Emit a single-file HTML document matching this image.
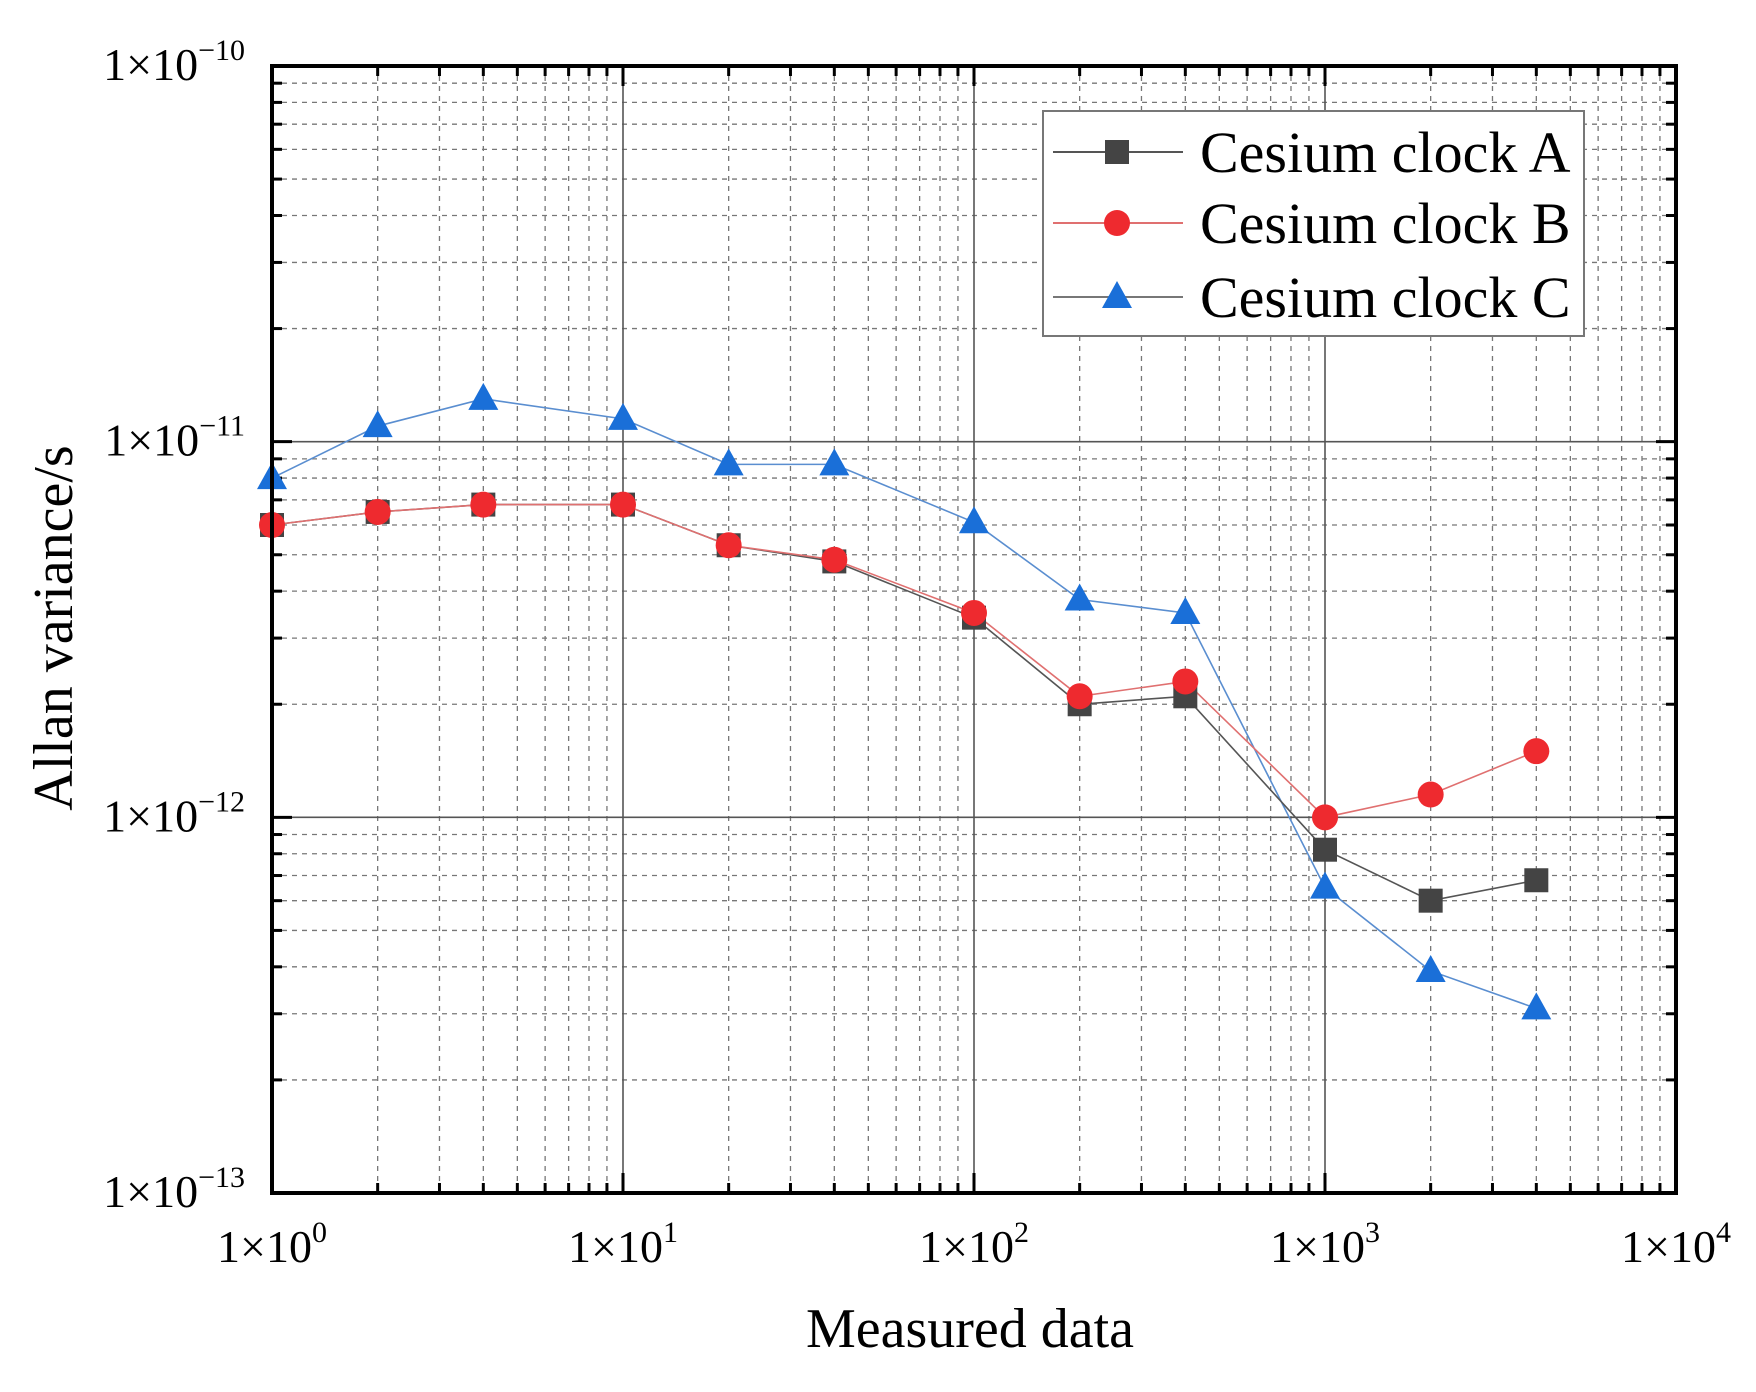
<!DOCTYPE html>
<html><head><meta charset="utf-8"><style>
html,body{margin:0;padding:0;background:#fff;}
svg{display:block;font-family:"Liberation Serif",serif;}
</style></head><body>
<svg id="s" width="1756" height="1392" viewBox="0 0 1756 1392" xmlns="http://www.w3.org/2000/svg"></svg>
<script>
const L=272,R=1676,T=66,B=1193;
const dx=(R-L)/4, dy=(B-T)/3;
const X=v=>L+Math.log10(v)*dx;
const Y=v=>T+(-10-Math.log10(v))*dy;
let h='';
// minor grid
for(let d=0;d<4;d++)for(let k=2;k<10;k++){const x=X(k*Math.pow(10,d));
 h+=`<line x1="${x}" y1="${T}" x2="${x}" y2="${B}" stroke="#777" stroke-width="1.3" stroke-dasharray="5,5"/>`;
 h+=`<line x1="${x}" y1="${B}" x2="${x}" y2="${B-10}" stroke="#000" stroke-width="3"/>`;
 h+=`<line x1="${x}" y1="${T}" x2="${x}" y2="${T+10}" stroke="#000" stroke-width="3"/>`;}
for(let d=-13;d<-10;d++)for(let k=2;k<10;k++){const y=Y(k*Math.pow(10,d));
 h+=`<line x1="${L}" y1="${y}" x2="${R}" y2="${y}" stroke="#777" stroke-width="1.3" stroke-dasharray="5,5"/>`;
 h+=`<line x1="${L}" y1="${y}" x2="${L+10}" y2="${y}" stroke="#000" stroke-width="3"/>`;
 h+=`<line x1="${R}" y1="${y}" x2="${R-10}" y2="${y}" stroke="#000" stroke-width="3"/>`;}
// major
for(let d=1;d<4;d++){const x=X(Math.pow(10,d));h+=`<line x1="${x}" y1="${T}" x2="${x}" y2="${B}" stroke="#555" stroke-width="1.6"/>`;
 h+=`<line x1="${x}" y1="${B}" x2="${x}" y2="${B-20}" stroke="#000" stroke-width="3"/><line x1="${x}" y1="${T}" x2="${x}" y2="${T+20}" stroke="#000" stroke-width="3"/>`;}
for(let d=-12;d<-10;d++){const y=Y(Math.pow(10,d));h+=`<line x1="${L}" y1="${y}" x2="${R}" y2="${y}" stroke="#555" stroke-width="1.6"/>`;
 h+=`<line x1="${L}" y1="${y}" x2="${L+20}" y2="${y}" stroke="#000" stroke-width="3"/><line x1="${R}" y1="${y}" x2="${R-20}" y2="${y}" stroke="#000" stroke-width="3"/>`;}
// data
const xs=[1,2,4,10,20,40,100,200,400,1000,2000,4000];
const A=[6e-12,6.5e-12,6.8e-12,6.8e-12,5.3e-12,4.8e-12,3.4e-12,2.0e-12,2.1e-12,8.2e-13,6.0e-13,6.8e-13];
const Bv=[6e-12,6.5e-12,6.8e-12,6.8e-12,5.3e-12,4.85e-12,3.5e-12,2.1e-12,2.3e-12,1.0e-12,1.15e-12,1.5e-12];
const C=[8e-12,1.1e-11,1.3e-11,1.15e-11,8.7e-12,8.7e-12,6.1e-12,3.8e-12,3.5e-12,6.5e-13,3.9e-13,3.1e-13];
function line(a,c){return `<polyline fill="none" stroke="${c}" stroke-width="1.6" points="${xs.map((x,i)=>X(x)+','+Y(a[i])).join(' ')}"/>`;}
const sq=(x,y)=>`<rect x="${x-12}" y="${y-12}" width="24" height="24" fill="#444"/>`;
const ci=(x,y)=>`<circle cx="${x}" cy="${y}" r="13" fill="#ee2a2f"/>`;
const tr=(x,y)=>`<polygon points="${x},${y-16} ${x-15},${y+11} ${x+15},${y+11}" fill="#1a6fd8"/>`;
h+=line(C,'#5a8ed0')+line(A,'#555')+line(Bv,'#e07070');
xs.forEach((x,i)=>{h+=tr(X(x),Y(C[i]));});
xs.forEach((x,i)=>{h+=sq(X(x),Y(A[i]));});
xs.forEach((x,i)=>{h+=ci(X(x),Y(Bv[i]));});
// frame
h+=`<rect x="${L}" y="${T}" width="${R-L}" height="${B-T}" fill="none" stroke="#000" stroke-width="4"/>`;
// legend
h+=`<rect x="1043" y="111" width="541" height="225" fill="#fff" stroke="#777" stroke-width="2"/>`;
const rows=[[152,'#555',sq,'A'],[223,'#e07070',ci,'B'],[297,'#777',tr,'C']];
rows.forEach(r=>{h+=`<line x1="1053" y1="${r[0]}" x2="1183" y2="${r[0]}" stroke="${r[1]}" stroke-width="2"/>`+r[2](1117,r[0])+
 `<text x="1200" y="${r[0]+20}" font-size="58">Cesium clock ${r[3]}</text>`;});
// tick labels
for(let d=0;d<=4;d++){h+=`<text x="${X(Math.pow(10,d))}" y="1262" font-size="46" text-anchor="middle">1×10<tspan dy="-20" font-size="30">${d}</tspan></text>`;}
for(let d=-13;d<=-10;d++){const y=Y(Math.pow(10,d));h+=`<text x="245" y="${y+14}" font-size="46" text-anchor="end">1×10<tspan dy="-20" font-size="30">−${-d}</tspan></text>`;}
h+=`<text x="970" y="1347" font-size="56" text-anchor="middle">Measured data</text>`;
h+=`<text transform="translate(72,628) rotate(-90)" font-size="56" text-anchor="middle">Allan variance/s</text>`;
document.getElementById('s').innerHTML=h;
</script>
</body></html>
